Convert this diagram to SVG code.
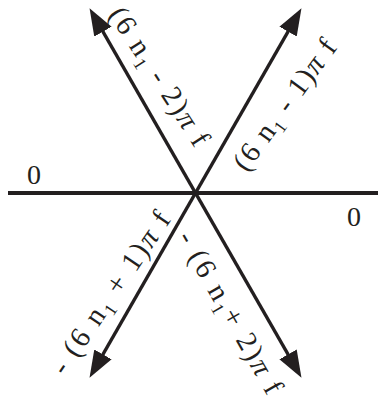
<svg xmlns="http://www.w3.org/2000/svg" width="378" height="407" viewBox="0 0 378 407">
<style>
.ln{stroke:#231f20;stroke-width:3.5;fill:none}
.lbl{font-family:"Liberation Serif","Times New Roman",serif;font-size:29px;fill:#231f20}
.zero{font-family:"Liberation Serif","Times New Roman",serif;font-size:28px;fill:#231f20;text-anchor:middle}
.sub{font-size:18px}
.pi{font-style:italic}
</style>
<defs>
<marker id="ah" markerUnits="userSpaceOnUse" markerWidth="30" markerHeight="22" refX="14" refY="10" orient="auto">
<path d="M0,0 L27,10 L0,20 z" fill="#231f20"/>
</marker>
</defs>
<g id="connectors">
<line x1="8" y1="193" x2="378" y2="193" style="stroke:#231f20;stroke-width:4"/>
<line class="ln" x1="195.5" y1="193" x2="96" y2="19.5" marker-end="url(#ah)"/>
<line class="ln" x1="195.5" y1="193" x2="295" y2="19.5" marker-end="url(#ah)"/>
<line class="ln" x1="195.5" y1="193" x2="96" y2="366.5" marker-end="url(#ah)"/>
<line class="ln" x1="195.5" y1="193" x2="295" y2="366.5" marker-end="url(#ah)"/>
</g>
<g id="zero-left"><text class="zero" x="34" y="184">0</text></g>
<g id="zero-right"><text class="zero" x="354" y="226">0</text></g>
<g id="label-ul">
<text class="lbl" text-anchor="middle" textLength="160" lengthAdjust="spacing" transform="translate(151.5,81.5) rotate(57)">(6 n<tspan class="sub" dy="6">1</tspan><tspan dy="-6"> - 2)</tspan><tspan class="pi">π</tspan> f</text>
</g>
<g id="label-ur">
<text class="lbl" text-anchor="middle" textLength="155" lengthAdjust="spacing" transform="translate(292.3,110.3) rotate(-54)">(6 n<tspan class="sub" dy="6">1</tspan><tspan dy="-6"> - 1)</tspan><tspan class="pi">π</tspan> f</text>
</g>
<g id="label-ll">
<text class="lbl" text-anchor="middle" textLength="190" lengthAdjust="spacing" transform="translate(118.4,298) rotate(-55.8)">- (6 n<tspan class="sub" dy="6">1</tspan><tspan dy="-6"> + 1)</tspan><tspan class="pi">π</tspan> f</text>
</g>
<g id="label-lr">
<text class="lbl" text-anchor="middle" textLength="183" lengthAdjust="spacing" transform="translate(222.3,317) rotate(60.3)">- (6 n<tspan class="sub" dy="6">1</tspan><tspan dy="-6">+ 2)</tspan><tspan class="pi">π</tspan> f</text>
</g>
</svg>
